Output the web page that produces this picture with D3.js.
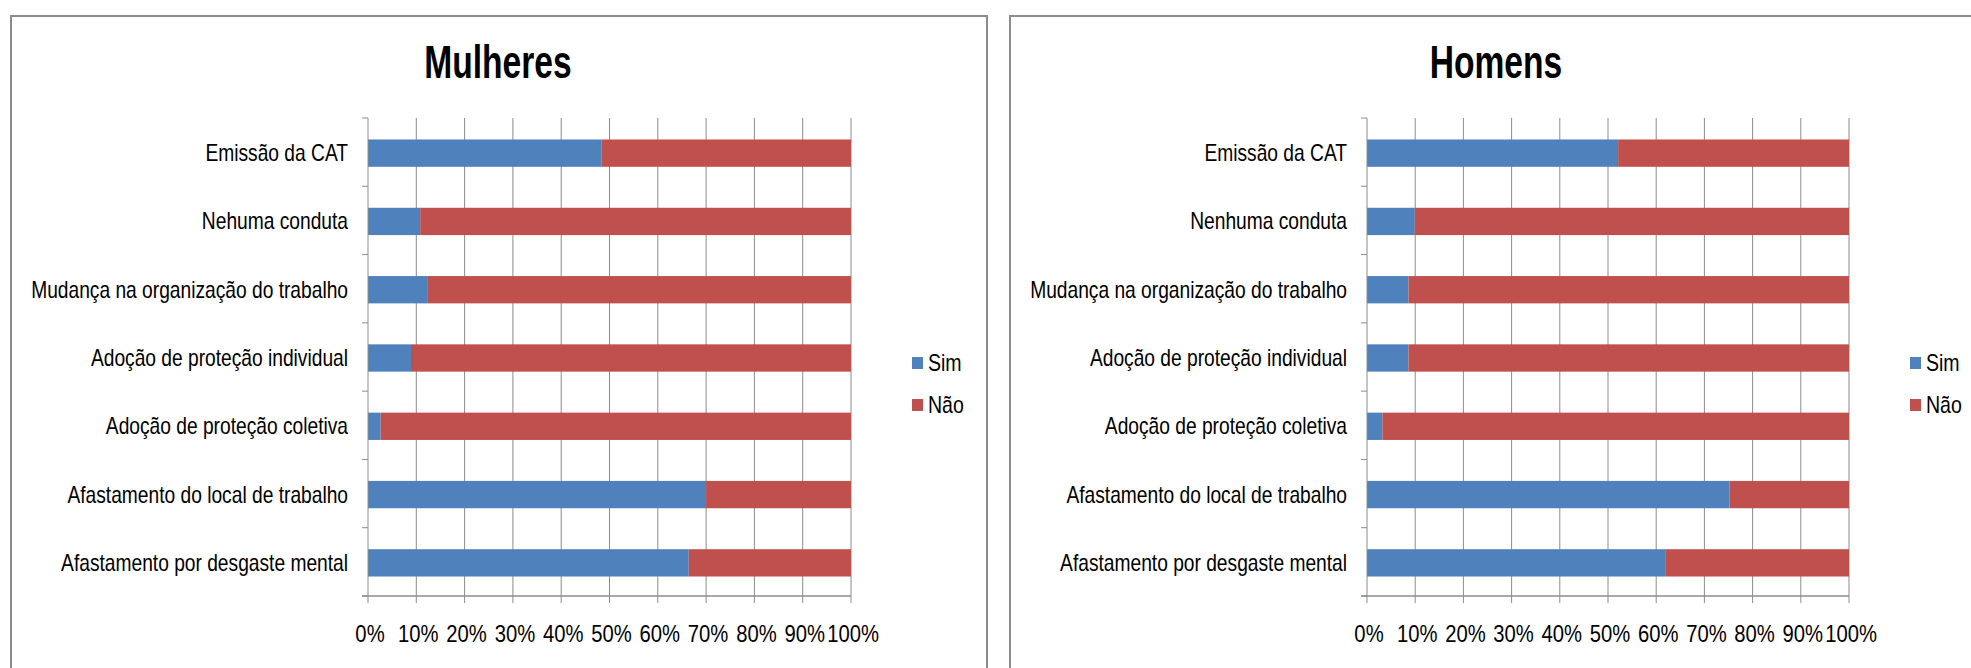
<!DOCTYPE html>
<html>
<head>
<meta charset="utf-8">
<script src="https://cdn.jsdelivr.net/npm/d3@7"></script>
<style>
  body { margin: 0; background: #fff; }
  text { font-family: "Liberation Sans", Arial, sans-serif; fill: #000; }
</style>
</head>
<body>
<svg id="canvas" width="1971" height="668"></svg>
<script>
// categories (top to bottom)
var catsMulheres = ['Emissão da CAT', 'Nehuma conduta', 'Mudança na organização do trabalho',
  'Adoção de proteção individual', 'Adoção de proteção coletiva',
  'Afastamento do local de trabalho', 'Afastamento por desgaste mental'];
var catsHomens = ['Emissão da CAT', 'Nenhuma conduta', 'Mudança na organização do trabalho',
  'Adoção de proteção individual', 'Adoção de proteção coletiva',
  'Afastamento do local de trabalho', 'Afastamento por desgaste mental'];

// percentages
var simMulheres = [48.3, 10.8, 12.4, 8.9, 2.6, 70.0, 66.4];
var naoMulheres = [51.7, 89.2, 87.6, 91.1, 97.4, 30.0, 33.6];
var simHomens = [52.1, 9.9, 8.6, 8.6, 3.2, 75.2, 62.0];
var naoHomens = [47.9, 90.1, 91.4, 91.4, 96.8, 24.8, 38.0];

var seriesNames = ['Sim', 'Não'];
var seriesColors = ['#4F81BD', '#C0504D'];
var xTicks = [0, 10, 20, 30, 40, 50, 60, 70, 80, 90, 100];

var svg = d3.select('#canvas');

function drawPanel(opt) {
  var g = svg.append('g');

  // frame
  g.append('rect')
    .attr('x', opt.frameX).attr('y', 16)
    .attr('width', opt.frameW).attr('height', 700)
    .attr('fill', 'white').attr('stroke', '#8c8c8c').attr('stroke-width', 2);

  // title
  g.append('text').text(opt.title)
    .attr('transform', 'translate(' + opt.titleX + ',78) scale(0.73,1)')
    .attr('text-anchor', 'middle')
    .attr('font-size', '46px').attr('font-weight', 'bold');

  var x = d3.scaleLinear().domain([0, 100]).range([opt.x0, opt.x1]);
  var y = d3.scaleBand().domain(opt.cats).range([118, 596])
    .paddingInner(0.6).paddingOuter(0.3);

  // vertical gridlines
  g.selectAll('line.grid')
    .data(xTicks.slice(1)).enter().append('line')
    .attr('x1', d => x(d)).attr('x2', d => x(d))
    .attr('y1', 118).attr('y2', 596)
    .attr('stroke', '#8c8c8c').attr('stroke-width', 1);

  // stacked bars
  var stackData = opt.cats.map(function(c, i) {
    return {cat: c, Sim: opt.sim[i], 'Não': opt.nao[i]};
  });
  var stacked = d3.stack().keys(seriesNames)(stackData);
  stacked.forEach(function(s, k) {
    g.selectAll('rect.s' + k)
      .data(s).enter().append('rect')
      .attr('x', d => x(d[0]))
      .attr('width', d => x(d[1]) - x(d[0]))
      .attr('y', d => y(d.data.cat) + 1)
      .attr('height', y.bandwidth())
      .attr('fill', seriesColors[k]);
  });

  // y axis with category boundary ticks
  g.append('line')
    .attr('x1', opt.x0).attr('x2', opt.x0).attr('y1', 118).attr('y2', 596)
    .attr('stroke', '#8c8c8c').attr('stroke-width', 1);
  var step = y.step();
  d3.range(opt.cats.length + 1).forEach(function(i) {
    var yy = 118 + i * step;
    g.append('line')
      .attr('x1', opt.x0 - 6).attr('x2', opt.x0).attr('y1', yy).attr('y2', yy)
      .attr('stroke', '#8c8c8c').attr('stroke-width', 1);
  });

  // x axis
  g.append('line')
    .attr('x1', opt.x0 - 6).attr('x2', opt.x1).attr('y1', 596).attr('y2', 596)
    .attr('stroke', '#8c8c8c').attr('stroke-width', 1.5);
  g.selectAll('line.xt')
    .data(xTicks).enter().append('line')
    .attr('x1', d => x(d)).attr('x2', d => x(d))
    .attr('y1', 596).attr('y2', 603)
    .attr('stroke', '#8c8c8c').attr('stroke-width', 1);
  g.selectAll('text.xt')
    .data(xTicks).enter().append('text')
    .text(d => d + '%')
    .attr('transform', d => 'translate(' + (x(d) + 2) + ',642) scale(0.88,1)')
    .attr('text-anchor', 'middle').attr('font-size', '23px');

  // category labels
  g.selectAll('text.cat')
    .data(opt.cats).enter().append('text')
    .text(d => d)
    .attr('transform', d => 'translate(' + (opt.x0 - 20) + ',' + (y(d) + y.bandwidth() / 2 + 9) + ') scale(0.8,1)')
    .attr('text-anchor', 'end').attr('font-size', '24px');

  // legend
  seriesNames.forEach(function(name, k) {
    g.append('rect')
      .attr('x', opt.legX).attr('y', 357 + k * 42)
      .attr('width', 11).attr('height', 12)
      .attr('fill', seriesColors[k]);
    g.append('text').text(name)
      .attr('transform', 'translate(' + (opt.legX + 16) + ',' + (371 + k * 42) + ') scale(0.85,1)')
      .attr('font-size', '23px');
  });
}

drawPanel({title: 'Mulheres', cats: catsMulheres, sim: simMulheres, nao: naoMulheres,
  frameX: 11, frameW: 976, titleX: 498, x0: 368, x1: 851, legX: 912});
drawPanel({title: 'Homens', cats: catsHomens, sim: simHomens, nao: naoHomens,
  frameX: 1010, frameW: 1000, titleX: 1496, x0: 1367, x1: 1849, legX: 1910});
</script>
</body>
</html>
